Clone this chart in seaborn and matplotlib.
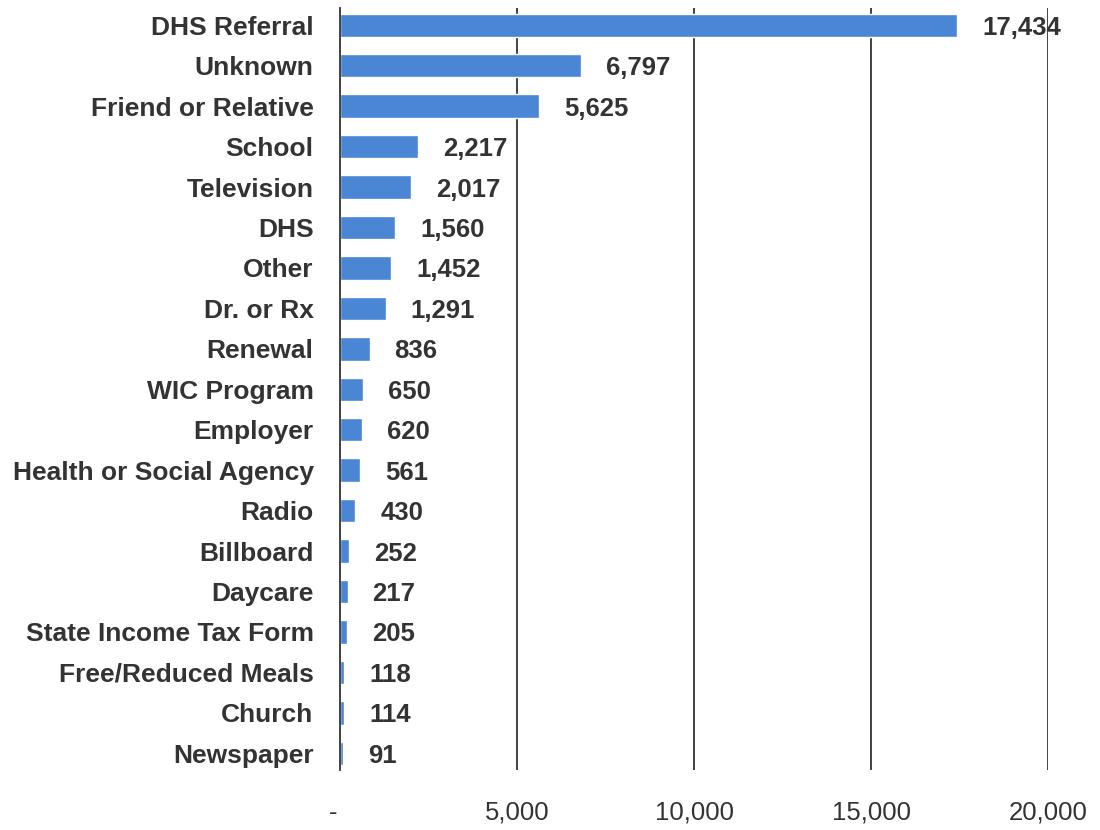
import matplotlib
matplotlib.use('Agg')
import matplotlib.pyplot as plt
import seaborn as sns
import pandas as pd

# Referral sources and counts
sources = ['DHS Referral', 'Unknown', 'Friend or Relative', 'School', 'Television',
           'DHS', 'Other', 'Dr. or Rx', 'Renewal', 'WIC Program', 'Employer',
           'Health or Social Agency', 'Radio', 'Billboard', 'Daycare',
           'State Income Tax Form', 'Free/Reduced Meals', 'Church', 'Newspaper']
counts = [17434, 6797, 5625, 2217, 2017, 1560, 1452, 1291, 836, 650, 620,
          561, 430, 252, 217, 205, 118, 114, 91]
xticks = [0, 5000, 10000, 15000, 20000]
xtick_labels = ['-  ', '5,000', '10,000', '15,000', '20,000']

df = pd.DataFrame({'source': sources, 'count': counts})

sns.set_style('white')
plt.rcParams['font.family'] = ['Liberation Sans', 'DejaVu Sans']

fig = plt.figure(figsize=(11, 8.3), dpi=100)
ax = fig.add_axes([0.309, 0.072, 0.644, 0.918])

sns.barplot(data=df, x='count', y='source', color='#4a86d4', saturation=1,
            width=0.58, ax=ax, zorder=3)

texts = ax.bar_label(ax.containers[0], labels=[f'{v:,}' for v in counts], padding=18,
                     fontsize=18.5, fontweight='bold', color='#333333')
for t in texts:
    t.set_va('center_baseline')

ax.set_xlim(0, 20000)
ax.set_ylim(len(sources) - 1 + 0.42, -0.42)
ax.set_xticks(xticks)
ax.set_xticklabels(xtick_labels, fontsize=18.5, color='#333333')
ax.tick_params(axis='x', length=0, pad=22)
ax.tick_params(axis='y', length=0, pad=19)
plt.setp(ax.get_yticklabels(), fontsize=19, fontweight='bold', color='#333333')
ax.set_xlabel('')
ax.set_ylabel('')

for x in xticks[1:]:
    ax.axvline(x, color='#333333', lw=1.3, zorder=1)

for s in ['top', 'right', 'bottom']:
    ax.spines[s].set_visible(False)
ax.spines['left'].set_color('#333333')
ax.spines['left'].set_linewidth(1.3)
ax.spines['left'].set_zorder(4)

fig.savefig('out.png', dpi=100)
